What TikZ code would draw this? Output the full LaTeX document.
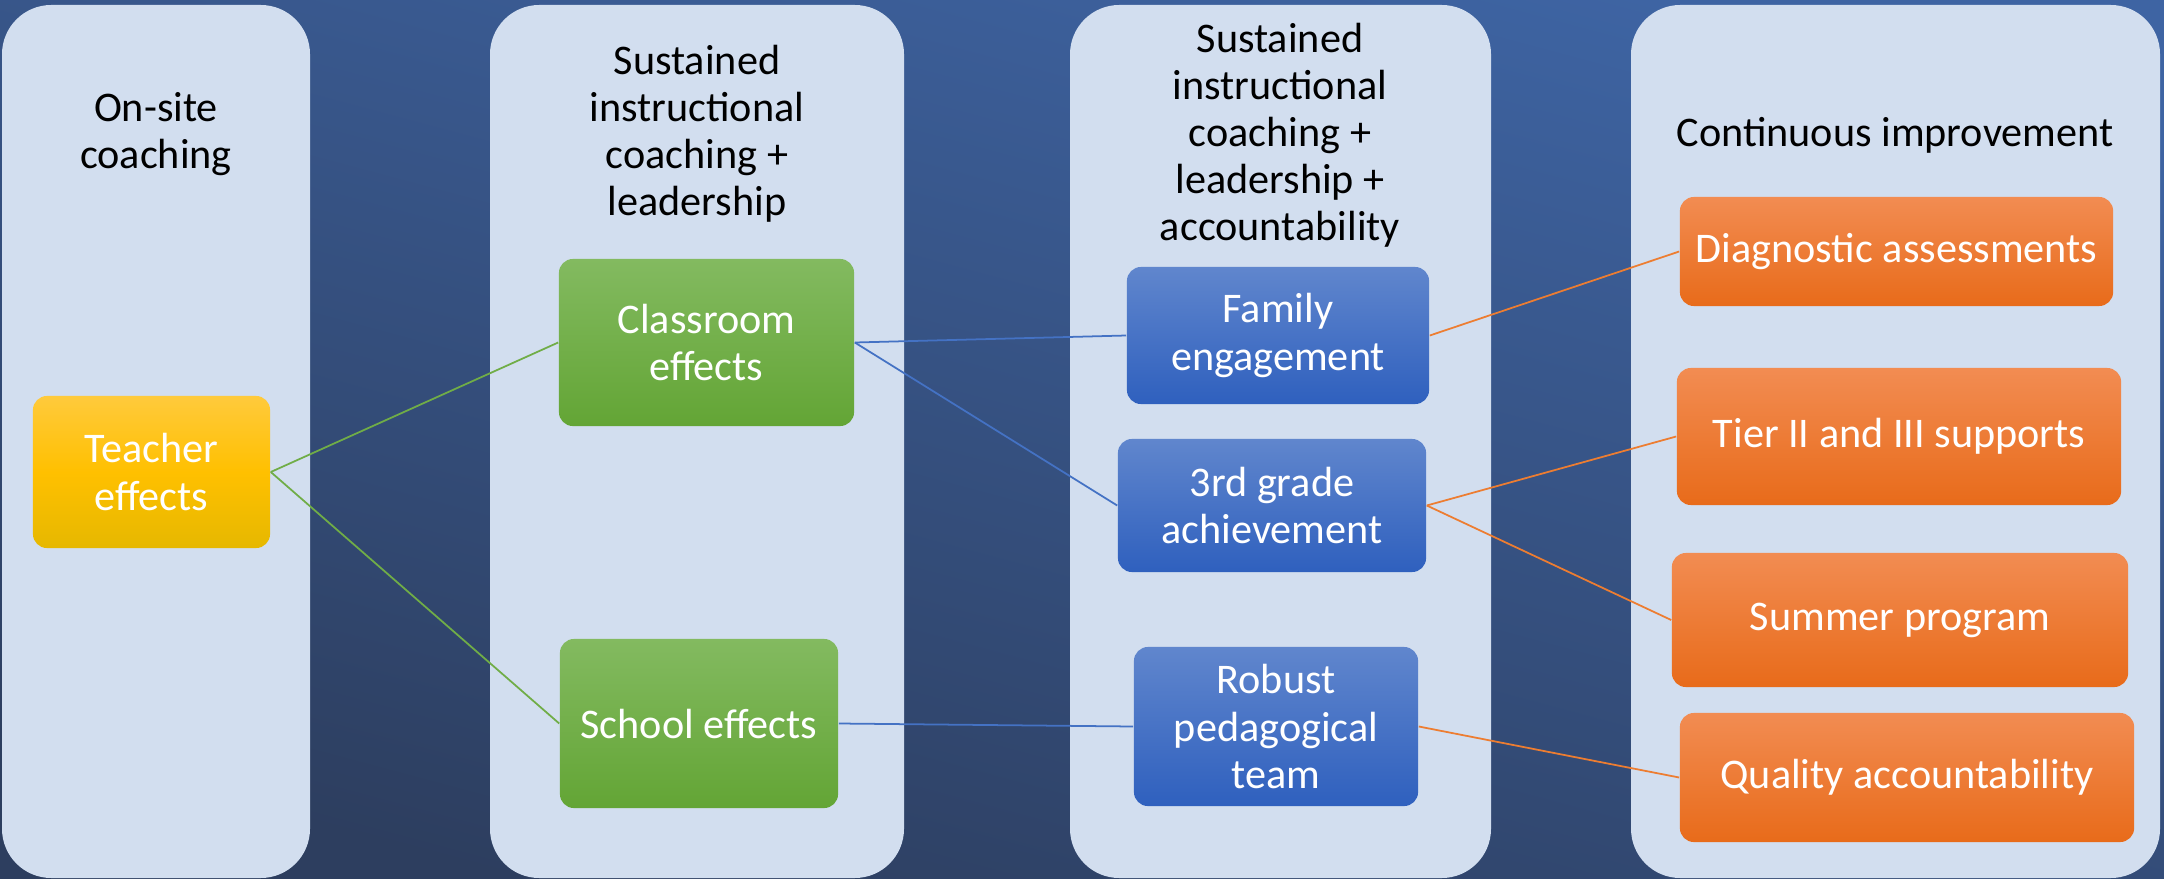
\documentclass[tikz,border=0pt]{standalone}
\usepackage{fontspec}
\setmainfont{Carlito}
\usepackage{tikz}

\definecolor{bgtop}{RGB}{62,100,163}
\definecolor{bgbot}{RGB}{45,62,95}
\definecolor{lanefill}{RGB}{210,222,239}
\definecolor{greenline}{RGB}{112,173,71}
\definecolor{blueline}{RGB}{68,114,196}
\definecolor{orangeline}{RGB}{237,125,49}
\definecolor{yellowtop}{RGB}{255,202,60}
\definecolor{yellowmid}{RGB}{255,192,0}
\definecolor{yellowbot}{RGB}{230,184,0}
\definecolor{greentop}{RGB}{131,186,96}
\definecolor{greenbot}{RGB}{99,165,53}
\definecolor{bluetop}{RGB}{96,134,205}
\definecolor{bluebot}{RGB}{47,96,190}
\definecolor{orangetop}{RGB}{242,140,82}
\definecolor{orangebot}{RGB}{232,107,26}

\begin{document}
\begin{tikzpicture}[x=0.01cm,y=-0.01cm,
    every node/.style={font=\fontsize{12}{13.4}\selectfont, align=center},
    lane/.style={fill=lanefill, rounded corners=14pt},
    effbox/.style={rounded corners=4pt, inner sep=0pt, text=white},
    yellowbox/.style={effbox, top color=yellowtop, bottom color=yellowbot, middle color=yellowmid},
    greenbox/.style={effbox, top color=greentop, bottom color=greenbot},
    bluebox/.style={effbox, top color=bluetop, bottom color=bluebot},
    orangebox/.style={effbox, top color=orangetop, bottom color=orangebot},
    link/.style={line width=0.5pt}]
        \useasboundingbox (0,0) rectangle (2164,879);
        \shade[top color=bgtop, bottom color=bgbot, shading angle=-15] (0,0) rectangle (2164,879);
        % the four columns
        \fill[lane] (2,5) rectangle (310,878);
        \fill[lane] (490,5) rectangle (904,878);
        \fill[lane] (1070,5) rectangle (1491,878);
        \fill[lane] (1631,5) rectangle (2160,878);
        \node (onsite) at (156,134) {On-site\\coaching};
        \node (sustained) at (697,134) {Sustained\\instructional\\coaching +\\leadership};
        \node (sustainedacc) at (1280,135) {Sustained\\instructional\\coaching +\\leadership +\\accountability};
        \node (continuous) at (1895,135) {Continuous improvement};
        % effect boxes
        \node[yellowbox, minimum width=2.37cm, minimum height=1.52cm] (teacher) at (151.5,472) {Teacher\\effects};
        \node[greenbox, minimum width=2.95cm, minimum height=1.67cm] (classroom) at (706.5,342.5) {Classroom\\effects};
        \node[greenbox, minimum width=2.78cm, minimum height=1.69cm] (school) at (699,723.5) {School effects};
        \node[bluebox, minimum width=3.02cm, minimum height=1.37cm] (family) at (1278,335.5) {Family\\engagement};
        \node[bluebox, minimum width=3.08cm, minimum height=1.33cm] (third) at (1272,505.5) {3rd grade\\achievement};
        \node[bluebox, minimum width=2.84cm, minimum height=1.59cm] (robust) at (1276,726.5) {Robust\\pedagogical\\team};
        \node[orangebox, minimum width=4.33cm, minimum height=1.09cm] (diag) at (1896.5,251.5) {Diagnostic assessments};
        \node[orangebox, minimum width=4.44cm, minimum height=1.37cm] (tier) at (1899,436.5) {Tier II and III supports};
        \node[orangebox, minimum width=4.56cm, minimum height=1.34cm] (summer) at (1900,620) {Summer program};
        \node[orangebox, minimum width=4.54cm, minimum height=1.29cm] (quality) at (1907,777.5) {Quality accountability};
        % links
        \draw[link, greenline] (teacher.east) -- (classroom.west);
        \draw[link, greenline] (teacher.east) -- (school.west);
        \draw[link, blueline] (classroom.east) -- (family.west);
        \draw[link, blueline] (classroom.east) -- (third.west);
        \draw[link, blueline] (school.east) -- (robust.west);
        \draw[link, orangeline] (family.east) -- (diag.west);
        \draw[link, orangeline] (third.east) -- (tier.west);
        \draw[link, orangeline] (third.east) -- (summer.west);
        \draw[link, orangeline] (robust.east) -- (quality.west);
\end{tikzpicture}
\end{document}
